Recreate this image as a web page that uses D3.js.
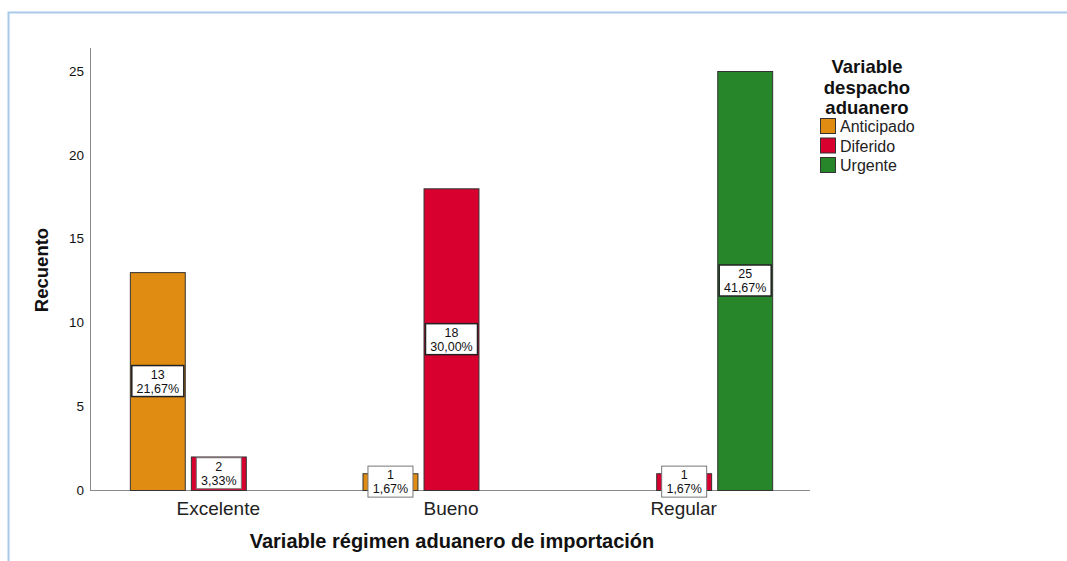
<!DOCTYPE html>
<html>
<head>
<meta charset="utf-8">
<title>Recuento por régimen aduanero</title>
<style>
  body { margin: 0; background: #fff; }
  svg text { font-family: Arial, "Liberation Sans", sans-serif; fill: #111; }
</style>
</head>
<body>
<svg id="chart" width="1067" height="561"></svg>
<script src="https://d3js.org/d3.v7.min.js"></script>
<script>
// datos
var categorias = ["Excelente", "Bueno", "Regular"];
var series = ["Anticipado", "Diferido", "Urgente"];
var colores = ["#e08b12", "#d7002f", "#27862a"];
var anticipado = [13, 1, 0];
var diferido = [2, 18, 1];
var urgente = [0, 0, 25];
var porcentajes = {
  Anticipado: ["21,67%", "1,67%", ""],
  Diferido: ["3,33%", "30,00%", "1,67%"],
  Urgente: ["", "", "41,67%"]
};
var yTicks = [0, 5, 10, 15, 20, 25];

var valores = { Anticipado: anticipado, Diferido: diferido, Urgente: urgente };

var svg = d3.select("#chart");

// marco azul claro
svg.append("path")
  .attr("d", "M8.5,561 L8.5,12.5 L1067,12.5")
  .attr("fill", "none")
  .attr("stroke", "#a9c9e9")
  .attr("stroke-width", 2);

var y = d3.scaleLinear().domain([0, 25]).range([490, 71]);
var x0 = d3.scaleBand().domain(categorias).range([102, 800]);
var color = d3.scaleOrdinal().domain(series).range(colores);

// ejes
svg.append("line").attr("x1", 90.5).attr("x2", 90.5).attr("y1", 48).attr("y2", 490.5)
  .attr("stroke", "#8a8a8a");
svg.append("line").attr("x1", 90).attr("x2", 810).attr("y1", 490.5).attr("y2", 490.5)
  .attr("stroke", "#8a8a8a");

svg.append("g").selectAll("text")
  .data(yTicks).enter().append("text")
  .attr("x", 84).attr("y", function(d) { return y(d); })
  .attr("dy", "0.36em")
  .attr("text-anchor", "end")
  .style("font-size", "13.5px")
  .text(function(d) { return d; });

svg.append("g").selectAll("text")
  .data(categorias).enter().append("text")
  .attr("x", function(d) { return x0(d) + x0.bandwidth() / 2; })
  .attr("y", 515)
  .attr("text-anchor", "middle")
  .style("font-size", "19px")
  .style("fill", "#222")
  .text(function(d) { return d; });

svg.append("text")
  .attr("transform", "translate(48,270) rotate(-90)")
  .attr("text-anchor", "middle")
  .style("font-size", "18.5px").style("font-weight", "bold")
  .text("Recuento");

svg.append("text")
  .attr("x", 452).attr("y", 548)
  .attr("text-anchor", "middle")
  .style("font-size", "20px").style("font-weight", "bold")
  .text("Variable régimen aduanero de importación");

// barras
var filas = [];
categorias.forEach(function(c, i) {
  series.forEach(function(s) {
    filas.push({ cat: c, serie: s, v: valores[s][i], pct: porcentajes[s][i] });
  });
});

var grupo = svg.append("g");
categorias.forEach(function(c) {
  var centro = x0(c) + x0.bandwidth() / 2;
  var x1 = d3.scaleBand().domain(series).range([centro - 88.5, centro + 88.5]).paddingInner(0.1);
  var datos = filas.filter(function(d) { return d.cat === c && d.v > 0; });

  grupo.selectAll(null).data(datos).enter().append("rect")
    .attr("x", function(d) { return x1(d.serie) + 0.5; })
    .attr("y", function(d) { return y(d.v) + 0.5; })
    .attr("width", x1.bandwidth())
    .attr("height", function(d) { return y(0) - y(d.v); })
    .attr("fill", function(d) { return color(d.serie); })
    .attr("stroke", "#333")
    .attr("stroke-width", 1);

  var etq = grupo.selectAll(null).data(datos).enter().append("g")
    .attr("transform", function(d) {
      var cy = (y(d.v) + y(0)) / 2;
      return "translate(" + (x1(d.serie) + x1.bandwidth() / 2 + 0.5) + "," + cy + ")";
    });

  etq.append("rect")
    .attr("x", function(d) { return d.pct.length > 5 ? -26 : -22.5; })
    .attr("y", -15.5)
    .attr("width", function(d) { return d.pct.length > 5 ? 52 : 45; })
    .attr("height", 31)
    .attr("fill", "#fff")
    .attr("stroke", function(d) { return d.v > 2 ? "#222" : "#777"; })
    .attr("stroke-width", function(d) { return d.v > 2 ? 1.5 : 1; });

  etq.append("text")
    .attr("text-anchor", "middle")
    .attr("y", -2.5)
    .style("font-size", "12.5px")
    .text(function(d) { return d.v; });

  etq.append("text")
    .attr("text-anchor", "middle")
    .attr("y", 11.5)
    .style("font-size", "12.5px")
    .text(function(d) { return d.pct; });
});

// leyenda
var titulo = ["Variable", "despacho", "aduanero"];
svg.append("g").selectAll("text")
  .data(titulo).enter().append("text")
  .attr("x", 867).attr("y", function(d, i) { return 73 + i * 20.7; })
  .attr("text-anchor", "middle")
  .style("font-size", "18.5px").style("font-weight", "bold")
  .text(function(d) { return d; });

var ley = svg.append("g").selectAll("g")
  .data(series).enter().append("g")
  .attr("transform", function(d, i) { return "translate(820," + (118 + i * 19.5) + ")"; });

ley.append("rect")
  .attr("x", 0.5).attr("y", 0.5).attr("width", 15).attr("height", 15)
  .attr("fill", function(d) { return color(d); })
  .attr("stroke", "#333");

ley.append("text")
  .attr("x", 20).attr("y", 14)
  .style("font-size", "16px")
  .style("fill", "#222")
  .text(function(d) { return d; });
</script>
</body>
</html>
